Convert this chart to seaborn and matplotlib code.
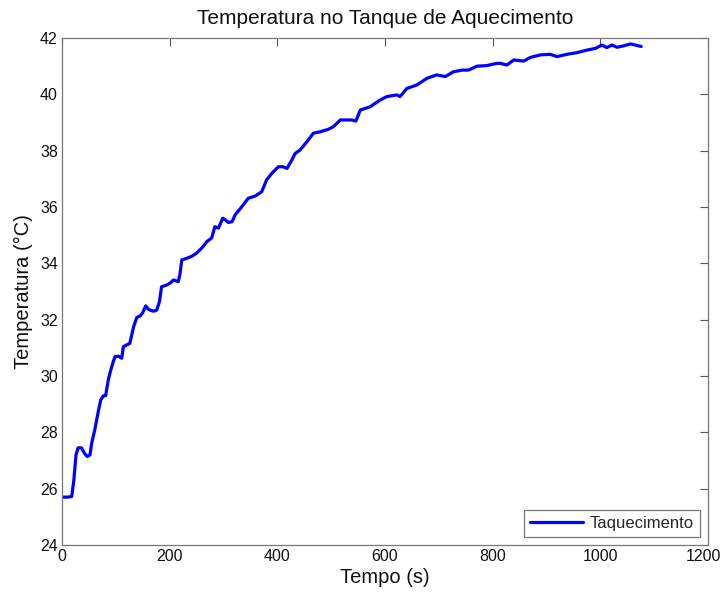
import matplotlib
matplotlib.use("Agg")
import matplotlib.pyplot as plt
import matplotlib.transforms as mtransforms
import seaborn as sns
import pandas as pd

# Heating tank temperature log
tempo = [0, 10, 18, 22, 26, 30, 36, 42, 47, 52, 55, 61, 68, 72, 77, 81, 86, 89, 95, 98.5,
         105, 111, 114, 120, 126, 133, 139, 145, 150, 155.5, 160, 163.6, 170, 176, 181, 185,
         194.6, 201, 207, 216, 219, 222.5, 232, 241, 250, 260, 269, 278, 284, 290.6, 298.6,
         303, 309, 316, 321.6, 334, 346, 359, 371, 380, 390, 402, 410, 418, 427, 433, 442,
         455, 467, 479.5, 495, 504, 517, 538, 546, 554, 572.5, 591, 603.5, 622, 628, 640.7,
         659, 678, 696, 712, 727, 743, 755, 771, 789, 808, 814, 826.6, 839, 857.5, 870,
         888.5, 907, 919.5, 938, 956.6, 975, 990.7, 1003, 1012, 1021.7, 1031, 1043, 1056,
         1065, 1071, 1076]
temperatura = [25.70, 25.70, 25.72, 26.3, 27.2, 27.45, 27.45, 27.25, 27.14, 27.2, 27.6, 28.1,
               28.8, 29.15, 29.3, 29.3, 29.86, 30.1, 30.5, 30.69, 30.70, 30.63, 31.04, 31.1,
               31.16, 31.75, 32.08, 32.13, 32.25, 32.49, 32.38, 32.34, 32.30, 32.34, 32.64,
               33.17, 33.23, 33.30, 33.41, 33.35, 33.6, 34.12, 34.18, 34.25, 34.36, 34.55,
               34.77, 34.90, 35.30, 35.25, 35.60, 35.55, 35.45, 35.48, 35.72, 36.01, 36.31,
               36.39, 36.54, 36.96, 37.20, 37.43, 37.43, 37.37, 37.67, 37.90, 38.02, 38.32,
               38.62, 38.67, 38.76, 38.85, 39.09, 39.09, 39.05, 39.44, 39.56, 39.80, 39.92,
               39.98, 39.92, 40.21, 40.33, 40.57, 40.69, 40.63, 40.80, 40.86, 40.86, 41.00,
               41.02, 41.10, 41.10, 41.04, 41.22, 41.18, 41.31, 41.40, 41.42, 41.34, 41.42,
               41.48, 41.57, 41.63, 41.75, 41.66, 41.75, 41.67, 41.72, 41.79, 41.75, 41.72,
               41.70]

x_ticks = [0, 200, 400, 600, 800, 1000, 1200]
y_ticks = [24, 26, 28, 30, 32, 34, 36, 38, 40, 42]

sns.set_theme(style="white")
plt.rcParams["font.family"] = ["Liberation Sans", "DejaVu Sans"]

df = pd.DataFrame({"Tempo": tempo, "Temperatura": temperatura,
                   "serie": ["Taquecimento"] * len(tempo)})

fig = plt.figure(figsize=(7.22, 5.92), dpi=100)
ax = fig.add_axes([62 / 722, 1 - 545 / 592, 646 / 722, 507 / 592])

sns.lineplot(data=df, x="Tempo", y="Temperatura", hue="serie", palette=["#0000ff"],
             sort=False, estimator=None, linewidth=2.3, ax=ax)

ax.set_xlim(0, 1200)
ax.set_ylim(24, 42)
ax.set_xticks(x_ticks)
ax.set_yticks(y_ticks)
ax.tick_params(direction="in", length=6, width=0.8, color="#555555",
               top=True, right=True, labelsize=11.5, pad=3, labelcolor="#111111")
for s in ax.spines.values():
    s.set_color("#777777")
    s.set_linewidth(0.9)

# keep the last x tick label inside the canvas
last = ax.get_xticklabels()[-1]
last.set_transform(last.get_transform() +
                   mtransforms.ScaledTranslation(-5 / 100, 0, fig.dpi_scale_trans))

ax.set_title("Temperatura no Tanque de Aquecimento", fontsize=15, color="#111111", pad=10)
ax.set_xlabel("Tempo (s)", fontsize=14.5, color="#111111", labelpad=3)
ax.set_ylabel("Temperatura (°C)", fontsize=14.5, color="#111111", labelpad=5)

leg = ax.legend(loc="lower right", fontsize=12, fancybox=False, framealpha=1,
                edgecolor="#777777", handlelength=3.2, borderpad=0.35,
                borderaxespad=0.5, handletextpad=0.4)
leg.get_frame().set_linewidth(0.9)

fig.savefig("out.png", dpi=100)
